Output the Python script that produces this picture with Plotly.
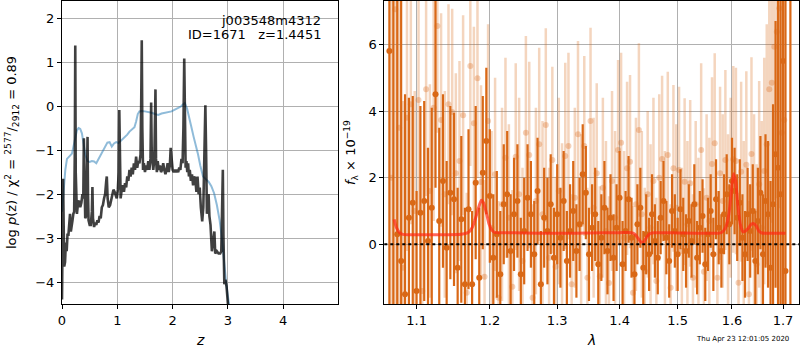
import plotly.graph_objects as go

# ---------------- left panel: p(z) and chi2 ----------------
z_pz = [0.000, 0.010, 0.020, 0.030, 0.040, 0.055, 0.070, 0.085, 0.100, 0.115,
        0.130, 0.145, 0.160, 0.175, 0.190, 0.205, 0.220, 0.232, 0.240, 0.248,
        0.256, 0.270, 0.290, 0.310, 0.330, 0.350, 0.370, 0.385, 0.395, 0.405,
        0.420, 0.440, 0.455, 0.462, 0.470, 0.480, 0.500, 0.520, 0.540, 0.550,
        0.560, 0.580, 0.600, 0.620, 0.640, 0.660, 0.680, 0.700, 0.720, 0.740,
        0.760, 0.780, 0.800, 0.810, 0.825, 0.845, 0.870, 0.890, 0.910, 0.930,
        0.950, 0.970, 0.990, 1.010, 1.025, 1.036, 1.048, 1.060, 1.080, 1.100,
        1.120, 1.140, 1.160, 1.180, 1.200, 1.220, 1.240, 1.260, 1.280, 1.300,
        1.320, 1.340, 1.360, 1.380, 1.400, 1.420, 1.433, 1.442, 1.452, 1.465,
        1.480, 1.500, 1.520, 1.540, 1.560, 1.580, 1.600, 1.612, 1.622, 1.635,
        1.650, 1.670, 1.682, 1.690, 1.700, 1.715, 1.730, 1.750, 1.770, 1.790,
        1.810, 1.830, 1.850, 1.870, 1.890, 1.910, 1.930, 1.950, 1.965, 1.980,
        2.000, 2.020, 2.040, 2.060, 2.080, 2.100, 2.120, 2.140, 2.160, 2.180,
        2.195, 2.210, 2.222, 2.235, 2.250, 2.265, 2.280, 2.295, 2.310, 2.330,
        2.350, 2.370, 2.390, 2.410, 2.430, 2.450, 2.470, 2.490, 2.510, 2.535,
        2.555, 2.575, 2.592, 2.605, 2.620, 2.635, 2.650, 2.665, 2.685, 2.710,
        2.735, 2.755, 2.770, 2.800, 2.830, 2.860, 2.880, 2.895, 2.908, 2.918,
        2.935, 2.955, 2.975, 3.000, 3.020]
logp = [-4.4, -3.0, -1.65, -2.7, -3.65, -3.55, -3.1, -3.3, -2.9, -2.95,
        -2.6, -2.45, -2.85, -2.75, -2.6, -2.45, -2.4, -1.0, 1.38, -1.5,
        -2.4, -2.45, -2.2, -2.15, -2.3, -2.2, -2.0, -2.1, -0.73, -2.3,
        -2.55, -2.5, -1.5, -0.7, -2.0, -2.6, -2.7, -2.7, -2.4, -1.84,
        -2.55, -2.75, -2.65, -2.7, -2.6, -2.65, -2.5, -2.55, -2.3, -2.25,
        -2.1, -2.0, -1.7, -1.6, -2.1, -2.3, -2.25, -2.1, -2.0, -1.9,
        -1.95, -2.05, -2.1, -1.9, -1.5, -0.09, -1.8, -2.1, -1.9, -1.8,
        -1.95, -1.75, -1.85, -1.6, -1.7, -1.45, -1.6, -1.4, -1.55, -1.3,
        -1.45, -1.15, -1.4, -1.25, -1.3, -1.1, 0.2, 1.5, -0.5, -1.45,
        -1.3, -1.5, -1.35, -1.45, -1.25, -1.45, -1.2, 0.08, -1.0, -1.3,
        -1.45, -1.2, -0.3, 0.38, -1.2, -1.5, -1.25, -1.45, -1.35, -1.5,
        -1.45, -1.3, -1.45, -1.55, -1.45, -1.3, -1.5, -1.35, -0.95, -1.2,
        -1.45, -1.5, -1.45, -1.5, -1.45, -1.5, -1.4, -1.45, -1.2, -1.3,
        -0.5, 1.08, -0.6, -1.4, -1.25, -1.5, -1.3, -1.6, -1.45, -1.7,
        -1.55, -1.8, -1.6, -1.65, -1.95, -1.6, -2.0, -1.85, -2.3, -2.62,
        -2.3, -1.0, 0.02, -1.0, -2.45, -2.2, -2.0, -2.5, -2.7, -3.3,
        -3.1, -2.85, -3.35, -3.3, -3.35, -3.35, -3.3, -2.2, -1.45, -2.9,
        -4.05, -3.95, -4.1, -4.5, -4.8]

z_chi = [0.00, 0.03, 0.06, 0.09, 0.12, 0.15, 0.18, 0.21, 0.24, 0.27,
         0.30, 0.33, 0.36, 0.39, 0.42, 0.46, 0.50, 0.54, 0.58, 0.62,
         0.66, 0.70, 0.74, 0.78, 0.82, 0.86, 0.90, 0.94, 0.98, 1.02,
         1.07, 1.13, 1.18, 1.22, 1.27, 1.31, 1.34, 1.37, 1.40, 1.44,
         1.50, 1.56, 1.62, 1.68, 1.74, 1.80, 1.86, 1.92, 1.98, 2.04,
         2.10, 2.15, 2.19, 2.22, 2.26, 2.30, 2.34, 2.38, 2.42, 2.46,
         2.50, 2.55, 2.60, 2.65, 2.70, 2.75, 2.80, 2.85, 2.89, 2.93,
         2.97, 3.03]
chi_scaled = [-2.4, -1.85, -1.45, -1.2, -1.15, -1.12, -1.08, -0.9, -0.68, -0.55,
              -0.5, -0.52, -0.62, -0.88, -1.1, -1.25, -1.27, -1.25, -1.26, -1.3,
              -1.2, -1.1, -1.0, -0.9, -0.83, -0.82, -0.92, -0.85, -0.82, -0.84,
              -0.78, -0.72, -0.65, -0.58, -0.53, -0.48, -0.35, -0.18, -0.12, -0.11,
              -0.12, -0.13, -0.15, -0.18, -0.2, -0.17, -0.15, -0.13, -0.12, -0.08,
              -0.04, -0.01, 0.04, 0.07, -0.05, -0.3, -0.48, -0.7, -0.88, -1.1,
              -1.35, -1.6, -1.66, -1.72, -1.82, -1.98, -2.25, -2.6, -3.0, -3.5,
              -4.05, -4.6]

# ---------------- right panel: spectrum ----------------
wave_a = [1.065, 1.070, 1.075, 1.080, 1.085, 1.090, 1.095, 1.100, 1.105, 1.110,
          1.115, 1.120, 1.125, 1.130, 1.135, 1.140, 1.145, 1.150, 1.155, 1.160,
          1.165, 1.170, 1.175, 1.180, 1.185, 1.190, 1.195, 1.200, 1.205, 1.210,
          1.215, 1.220, 1.225, 1.230, 1.235, 1.240, 1.245, 1.250, 1.255, 1.260,
          1.265, 1.270, 1.275, 1.280, 1.285, 1.290, 1.295, 1.300, 1.305, 1.310,
          1.315, 1.320, 1.325, 1.330, 1.335, 1.340, 1.345, 1.350, 1.355, 1.360,
          1.365, 1.370, 1.375, 1.380, 1.385, 1.390, 1.395, 1.400, 1.405, 1.410,
          1.415, 1.420, 1.425, 1.430, 1.435, 1.440, 1.445, 1.450, 1.455, 1.460,
          1.465, 1.470, 1.475, 1.480, 1.485, 1.490, 1.495, 1.500, 1.505, 1.510,
          1.515, 1.520, 1.525, 1.530, 1.535, 1.540, 1.545, 1.550, 1.555, 1.560,
          1.565, 1.570, 1.575, 1.580, 1.585, 1.590, 1.595, 1.600, 1.605, 1.610,
          1.615, 1.620, 1.625, 1.630, 1.635, 1.640, 1.645, 1.650, 1.655, 1.660,
          1.665, 1.670, 1.675, 1.680, 1.685, 1.690, 1.695, 1.700, 1.705, 1.715]
flux_a = [5.8, 9.0, 0.3, -0.5, -1.5, 0.8, 1.25, -1.4, 0.95, 1.3,
          0.1, 1.1, 4.5, 0.7, 1.9, -0.1, 1.55, 1.35, -0.7, 0.75,
          -1.2, 1.05, -1.2, 1.85, -1.0, 2.15, 3.1, 1.45, -0.4, 0.3,
          -0.9, 1.2, 1.5, -0.2, 0.9, 1.3, -0.9, 0.4, 1.4, 0.9,
          -0.3, 1.6, -1.2, 0.8, 0.4, 1.2, -0.4, 0.9, 0.2, 1.3,
          -0.5, 0.4, 1.0, -0.2, 0.6, 2.1, 1.55, -0.3, 0.5, 0.9,
          -0.6, 0.2, 1.1, -0.2, 0.8, -0.4, 0.5, 1.4, -0.6, 0.4,
          1.35, 0.2, -0.9, 0.6, 1.1, -0.7, 0.3, -0.3, 0.9, 0.1,
          -0.4, 0.8, 1.3, 0.2, -0.5, 1.0, 0.4, -0.3, 1.05, 0.3,
          -0.2, 0.7, 0.1, 1.2, -0.4, 0.5, 0.85, -0.6, 0.3, 1.0,
          -0.3, 1.35, 0.5, -0.2, 0.9, 1.5, 0.6, 1.9, 1.6, 0.8,
          1.25, 0.2, -0.3, 0.9, 0.4, 1.0, -0.5, 0.7, 1.55, -0.3,
          1.3, 0.9, -0.7, 1.2, 2.7, 2.3, 1.5, 5.5, -0.8, 9.0]
err_a = [12, 12, 10, 8, 6, 3.6, 3.2, 3.0, 3.2, 3.0,
         2.8, 3.0, 2.8, 2.8, 2.6, 2.6, 2.6, 2.6, 2.4, 2.5,
         2.3, 2.4, 2.2, 2.3, 2.1, 2.3, 2.2, 2.0, 1.9, 1.9,
         1.9, 1.8, 1.9, 1.7, 1.7, 1.7, 1.7, 1.6, 1.6, 1.6,
         1.6, 1.6, 1.6, 1.5, 1.6, 1.5, 1.5, 1.5, 1.5, 1.5,
         1.5, 1.4, 1.5, 1.4, 1.4, 1.5, 1.4, 1.4, 1.3, 1.4,
         1.3, 1.3, 1.4, 1.3, 1.3, 1.3, 1.3, 1.4, 1.3, 1.2,
         1.3, 1.2, 1.2, 1.2, 1.2, 1.1, 1.2, 1.1, 1.2, 1.1,
         1.1, 1.1, 1.2, 1.1, 1.1, 1.1, 1.1, 1.1, 1.2, 1.1,
         1.1, 1.1, 1.1, 1.2, 1.1, 1.1, 1.1, 1.1, 1.1, 1.1,
         1.1, 1.2, 1.1, 1.1, 1.2, 1.2, 1.2, 1.3, 1.3, 1.3,
         1.3, 1.3, 1.3, 1.4, 1.4, 1.4, 1.5, 1.6, 1.7, 1.8,
         2.0, 2.2, 2.6, 3.0, 4.0, 5.0, 7.0, 12, 12, 12]

wave_b = [1.0675, 1.0725, 1.0775, 1.0825, 1.0875, 1.0925, 1.0975, 1.1025, 1.1075, 1.1125,
          1.1175, 1.1225, 1.1275, 1.1325, 1.1375, 1.1425, 1.1475, 1.1525, 1.1575, 1.1625,
          1.1675, 1.1725, 1.1775, 1.1825, 1.1875, 1.1925, 1.1975, 1.2025, 1.2075, 1.2125,
          1.2175, 1.2225, 1.2275, 1.2325, 1.2375, 1.2425, 1.2475, 1.2525, 1.2575, 1.2625,
          1.2675, 1.2725, 1.2775, 1.2825, 1.2875, 1.2925, 1.2975, 1.3025, 1.3075, 1.3125,
          1.3175, 1.3225, 1.3275, 1.3325, 1.3375, 1.3425, 1.3475, 1.3525, 1.3575, 1.3625,
          1.3675, 1.3725, 1.3775, 1.3825, 1.3875, 1.3925, 1.3975, 1.4025, 1.4075, 1.4125,
          1.4175, 1.4225, 1.4275, 1.4325, 1.4375, 1.4425, 1.4475, 1.4525, 1.4575, 1.4625,
          1.4675, 1.4725, 1.4775, 1.4825, 1.4875, 1.4925, 1.4975, 1.5025, 1.5075, 1.5125,
          1.5175, 1.5225, 1.5275, 1.5325, 1.5375, 1.5425, 1.5475, 1.5525, 1.5575, 1.5625,
          1.5675, 1.5725, 1.5775, 1.5825, 1.5875, 1.5925, 1.5975, 1.6025, 1.6075, 1.6125,
          1.6175, 1.6225, 1.6275, 1.6325, 1.6375, 1.6425, 1.6475, 1.6525, 1.6575, 1.6625,
          1.6675, 1.6725, 1.6775, 1.6825, 1.6875, 1.6925, 1.6975, 1.7025]
flux_b = [2.0, 7.05, 3.5, -0.7, 3.8, 4.2, 1.0, 4.33, -1.4, 4.65,
          1.6, 4.1, 6.55, 3.73, 1.5, 4.2, 3.97, 2.13, 2.5, 3.87,
          -1.45, 5.35, 3.63, 4.98, 1.87, -0.97, 3.7, 0.5, 2.1, -1.6,
          1.2, 2.6, 0.8, -1.27, 2.63, 1.5, -0.5, 3.35, 2.68, -1.6,
          1.3, 3.0, 0.9, 3.58, -0.4, 2.53, -0.67, 1.6, 0.33, 2.65,
          2.95, -1.2, 1.4, 3.3, 0.6, 2.95, -1.0, 3.7, 1.1, 2.13,
          -0.96, 1.7, 0.4, -1.16, 1.9, 0.8, 2.83, 3.05, 0.2, 2.28,
          2.48, -1.45, 1.2, 3.43, 0.9, -0.8, 1.5, 0.5, 1.9, -1.1,
          2.0, 2.56, 0.3, 2.68, -1.3, 2.28, 1.1, 2.23, -0.2, 1.88,
          0.6, 1.83, -1.0, 1.2, 0.1, 2.83, -0.82, 1.4, 0.7, 2.41,
          3.03, -1.0, 2.13, 1.3, 2.53, 0.6, 1.7, 2.55, 2.5, -1.15,
          2.18, 0.4, 2.39, -1.5, 2.71, 1.0, -0.6, 1.8, 0.5, 2.2,
          3.0, 4.65, 4.85, 5.93, 6.38, 7.08, 3.35, 3.73]
err_b = [9, 9, 7, 5, 4, 3.6, 3.6, 3.4, 3.4, 3.2,
         3.2, 3.4, 3.2, 3.2, 3.1, 3.0, 3.1, 3.0, 3.0, 3.0,
         3.0, 3.0, 2.9, 3.0, 2.9, 2.9, 2.9, 2.9, 2.9, 2.9,
         2.9, 3.0, 2.8, 2.9, 2.8, 2.9, 2.8, 2.9, 2.8, 2.8,
         2.8, 2.9, 2.8, 2.9, 2.7, 2.8, 2.7, 2.8, 2.7, 2.8,
         2.8, 2.7, 2.7, 2.8, 2.7, 2.7, 2.7, 2.8, 2.7, 2.7,
         2.7, 2.7, 2.7, 2.6, 2.7, 2.6, 2.7, 2.7, 2.6, 2.6,
         2.6, 2.6, 2.6, 2.6, 2.5, 2.5, 2.5, 2.5, 2.5, 2.5,
         2.5, 2.5, 2.5, 2.5, 2.5, 2.5, 2.5, 2.5, 2.5, 2.5,
         2.5, 2.5, 2.5, 2.5, 2.5, 2.6, 2.5, 2.5, 2.5, 2.6,
         2.7, 2.6, 2.6, 2.6, 2.7, 2.7, 2.7, 2.8, 2.8, 2.7,
         2.7, 2.7, 2.8, 2.8, 2.9, 2.9, 3.0, 3.1, 3.2, 3.4,
         3.6, 3.9, 4.2, 4.6, 5.0, 6.0, 7.0, 8.0]

model_wave = [1.071, 1.074, 1.078, 1.082, 1.090, 1.100, 1.120, 1.140, 1.160, 1.170,
              1.175, 1.180, 1.184, 1.188, 1.191, 1.195, 1.199, 1.203, 1.207, 1.220,
              1.250, 1.300, 1.350, 1.400, 1.420, 1.426, 1.431, 1.436, 1.441, 1.446,
              1.452, 1.460, 1.500, 1.550, 1.580, 1.588, 1.594, 1.599, 1.603, 1.607,
              1.611, 1.616, 1.621, 1.626, 1.632, 1.637, 1.642, 1.647, 1.652, 1.658,
              1.665, 1.680, 1.705]
model_flux = [0.75, 0.5, 0.35, 0.3, 0.29, 0.29, 0.29, 0.29, 0.3, 0.36,
              0.5, 0.8, 1.1, 1.32, 1.25, 0.95, 0.6, 0.42, 0.36, 0.35,
              0.34, 0.33, 0.34, 0.35, 0.35, 0.3, 0.18, 0.07, 0.08, 0.22,
              0.33, 0.35, 0.34, 0.33, 0.35, 0.5, 0.9, 1.6, 2.12, 1.9,
              1.2, 0.6, 0.38, 0.4, 0.5, 0.6, 0.62, 0.55, 0.4, 0.34,
              0.33, 0.33, 0.33]

pz_ticks = [0, 1, 2, 3, 4]
logp_ticks = [-4, -3, -2, -1, 0, 1, 2]
wave_ticks = [1.1, 1.2, 1.3, 1.4, 1.5, 1.6, 1.7]
flux_ticks = [0, 2, 4, 6]

ORANGE = "rgb(217,104,22)"
ORANGE_L = "rgba(217,104,22,0.28)"
ORANGE_LM = "rgba(217,104,22,0.3)"

fig = go.Figure()

fig.add_trace(go.Scatter(x=z_chi, y=chi_scaled, mode="lines",
                         line=dict(color="rgba(31,119,180,0.5)", width=2),
                         xaxis="x", yaxis="y", showlegend=False))
fig.add_trace(go.Scatter(x=z_pz, y=logp, mode="lines",
                         line=dict(color="rgba(0,0,0,0.75)", width=2.6),
                         xaxis="x", yaxis="y", showlegend=False))

fig.add_trace(go.Scatter(x=wave_b, y=flux_b, mode="markers",
                         marker=dict(color=ORANGE_LM, size=6),
                         error_y=dict(type="data", array=err_b, color=ORANGE_L,
                                      thickness=2.5, width=0),
                         xaxis="x2", yaxis="y2", showlegend=False))
fig.add_trace(go.Scatter(x=wave_a, y=flux_a, mode="markers",
                         marker=dict(color=ORANGE, size=6),
                         error_y=dict(type="data", array=err_a, color=ORANGE,
                                      thickness=2.2, width=0),
                         xaxis="x2", yaxis="y2", showlegend=False))
fig.add_trace(go.Scatter(x=model_wave, y=model_flux, mode="lines",
                         line=dict(color="rgba(255,40,20,0.7)", width=3, shape="spline",
                                   smoothing=0.6),
                         xaxis="x2", yaxis="y2", showlegend=False))

W, H = 800, 350
ytop = 1 - 1 / H
ybot = 1 - 304 / H

axis_common = dict(showline=True, linecolor="black", linewidth=1, mirror=True,
                   ticks="outside", ticklen=4, tickcolor="black",
                   showgrid=True, gridcolor="#b0b0b0", gridwidth=1,
                   zeroline=False, automargin=False,
                   tickfont=dict(size=13, color="black"))

fig.update_layout(
    width=W, height=H, margin=dict(l=0, r=0, t=0, b=0, autoexpand=False),
    paper_bgcolor="white", plot_bgcolor="white",
    font=dict(family="DejaVu Sans", size=13, color="black"),
    xaxis=dict(domain=[62 / W, 338 / W], range=[0, 4.99], anchor="y",
               tickvals=pz_ticks, **axis_common),
    yaxis=dict(domain=[ybot, ytop], range=[-4.5, 2.39], anchor="x",
               tickvals=logp_ticks, **axis_common),
    xaxis2=dict(domain=[384.3 / W, 799 / W], type="log",
                range=[0.02473, 0.23870], anchor="y2",
                tickvals=wave_ticks, ticktext=[str(v) for v in wave_ticks],
                **axis_common),
    yaxis2=dict(domain=[ybot, ytop], range=[-1.79, 7.3], anchor="x2",
                tickvals=flux_ticks, **axis_common),
    shapes=[dict(type="line", xref="x2 domain", yref="y2", x0=0, x1=1, y0=0, y1=0,
                 line=dict(color="black", width=2, dash="dot"), layer="above")],
    annotations=[
        dict(text="j003548m4312", x=323 / W, y=1 - 20 / H, xref="paper", yref="paper",
             xanchor="right", yanchor="middle", showarrow=False, font=dict(size=13)),
        dict(text="ID=1671\u00a0\u00a0\u00a0z=1.4451", x=323 / W, y=1 - 35 / H,
             xref="paper", yref="paper", xanchor="right", yanchor="middle",
             showarrow=False, font=dict(size=13)),
        dict(text="log <i>p</i>(z) / χ<sup>2</sup> = <sup>2577</sup>/<sub>2912</sub> = 0.89",
             x=12 / W, y=1 - 153 / H, xref="paper", yref="paper", textangle=-90,
             xanchor="center", yanchor="middle", showarrow=False, font=dict(size=13)),
        dict(text="<i>f</i><sub>λ</sub> × 10<sup>−19</sup>",
             x=351 / W, y=1 - 153 / H, xref="paper", yref="paper", textangle=-90,
             xanchor="center", yanchor="middle", showarrow=False, font=dict(size=13)),
        dict(text="<i>z</i>", x=200 / W, y=1 - 340 / H, xref="paper", yref="paper",
             xanchor="center", yanchor="middle", showarrow=False, font=dict(size=14)),
        dict(text="<i>λ</i>", x=591 / W, y=1 - 340 / H, xref="paper", yref="paper",
             xanchor="center", yanchor="middle", showarrow=False, font=dict(size=14)),
        dict(text="Thu Apr 23 12:01:05 2020", x=742 / W, y=1 - 339 / H,
             xref="paper", yref="paper", xanchor="center", yanchor="middle",
             showarrow=False, font=dict(size=7)),
    ],
)

post = ("document.body.style.margin='0';document.body.style.padding='0';"
        "document.body.style.overflow='hidden';"
        "document.documentElement.style.overflow='hidden';")
fig.write_html("out.html", post_script=post, config={"displayModeBar": False})
